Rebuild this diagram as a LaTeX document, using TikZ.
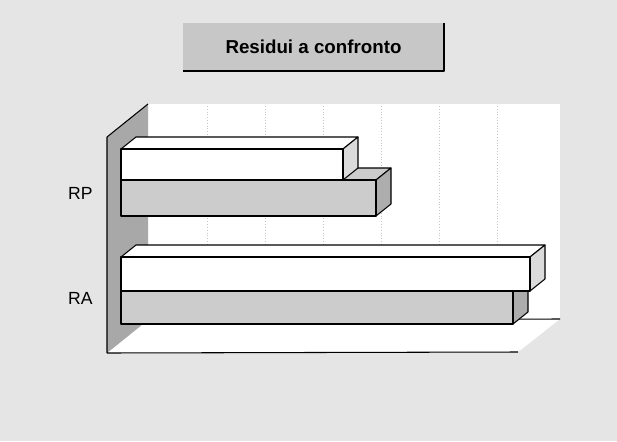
\documentclass[tikz,border=0pt]{standalone}
\usepackage{fontspec}
\setmainfont{Liberation Sans}

\definecolor{paper}{gray}{0.90}
\definecolor{barfront}{gray}{0.80}
\definecolor{barside}{gray}{0.68}
\definecolor{wallside}{gray}{0.66}
\definecolor{lightside}{gray}{0.86}
\definecolor{titlefill}{gray}{0.78}

\begin{document}
\begin{tikzpicture}[x=0.03cm, y=-0.03cm, line join=round, line width=0.9pt,
    font=\fontsize{15}{17}\selectfont]

  % page
  \fill[paper] (0,0) rectangle (617,441);
  \useasboundingbox (0,0) rectangle (617,441);

  % title box with shadow
  \fill[titlefill] (183,23) rectangle (444,71);
  \draw[line width=1.6pt] (444,23) -- (444,71) -- (183,71);
  \node[font=\bfseries\fontsize{16}{18}\selectfont] (title) at (313.5,47) {Residui a confronto};

  % coordinates
  \coordinate (WTL) at (148,104);
  \coordinate (WTR) at (560,104);
  \coordinate (WBR) at (560,319);
  \coordinate (WBL) at (148,320);
  \coordinate (SL) at (107,137);
  \coordinate (FL) at (107,353);
  \coordinate (FR) at (518,352);

  % back wall and floor
  \fill[white] (WTL) rectangle (WBR);
  \fill[white] (WBL) -- (WBR) -- (FR) -- (FL) -- cycle;

  % grid lines
  \foreach \x in {207,265,323,381,439,497}
    \draw[gray!45, thin, dotted] (\x,106) -- (\x,318);

  % side wall
  \fill[wallside] (SL) -- (WTL) -- (WBL) -- (FL) -- cycle;
  \draw (FL) -- (SL) -- (WTL);
  \draw (FL) -- (FR);
  \draw (WBL) -- (WBR);

  % bars (lower gray bar first, white bar on top of it)
  \foreach \xa/\ya/\xb/\yb/\col/\side in
    {121/180/376/216/barfront/barside, 121/149/343/180/white/lightside,
     121/291/513/324/barfront/barside, 121/257/530/291/white/lightside}
  {
    \filldraw[fill=\col] (\xa,\ya) -- (\xa+15,\ya-12) -- (\xb+15,\ya-12) -- (\xb,\ya) -- cycle;
    \filldraw[fill=\side] (\xb,\ya) -- (\xb+15,\ya-12) -- (\xb+15,\yb-12) -- (\xb,\yb) -- cycle;
    \filldraw[fill=\col] (\xa,\ya) rectangle (\xb,\yb);
  }

  % category labels
  \node[anchor=east] (rp) at (97,193) {RP};
  \node[anchor=east] (ra) at (97,298) {RA};
\end{tikzpicture}
\end{document}
